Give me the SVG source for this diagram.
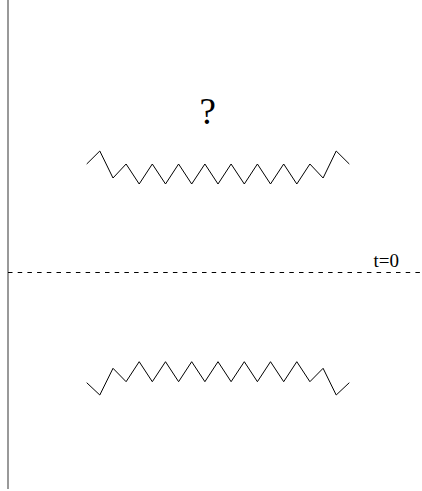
<svg xmlns="http://www.w3.org/2000/svg" width="422" height="491" viewBox="0 0 422 491">
<style>
.zz{fill:none;stroke:#000;stroke-width:1;stroke-linejoin:miter}
.lbl{font-family:"Liberation Serif","Times New Roman",serif;fill:#000}
</style>
<rect width="422" height="491" fill="#fff"/>
<g id="axis">
<line x1="8" y1="0" x2="8" y2="489" stroke="#777" stroke-width="1.5"/>
</g>
<g id="connectors">
<line x1="8" y1="272.5" x2="422" y2="272.5" stroke="#000" stroke-width="1" stroke-dasharray="4.5 5.2"/>
</g>
<g id="top-spring">
<polyline class="zz" points="86.7,164 99.8,151 113,178 126.1,164 139.2,184 152.3,164 165.5,184 178.6,164 191.7,184 204.9,164 218,184 231.1,164 244.3,184 257.4,164 270.5,184 283.7,164 296.8,184 309.9,164 323.1,178 336.2,151 349.3,164"/>
</g>
<g id="bottom-spring">
<polyline class="zz" points="86.7,382.7 99.8,395 113,368.3 126.1,381.7 139.2,361.7 152.3,381.7 165.5,361.7 178.6,381.7 191.7,361.7 204.9,381.7 218,361.7 231.1,381.7 244.3,361.7 257.4,381.7 270.5,361.7 283.7,381.7 296.8,361.7 309.9,381.7 323.1,368.3 336.2,395 349.3,382.7"/>
</g>
<g id="question">
<text class="lbl" x="199.5" y="123.5" font-size="37">?</text>
</g>
<g id="t0-label">
<text class="lbl" x="373.5" y="267" font-size="19">t=0</text>
</g>
</svg>
